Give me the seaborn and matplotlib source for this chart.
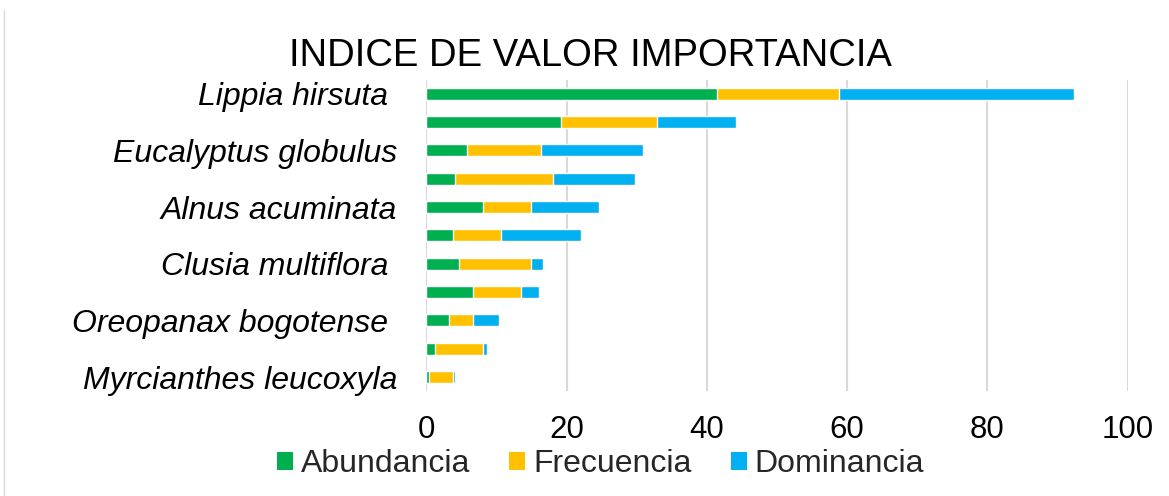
import matplotlib
matplotlib.use("Agg")
import matplotlib.pyplot as plt
import seaborn as sns
import pandas as pd
import numpy as np
from matplotlib.lines import Line2D
from matplotlib.patches import Patch

categories = ["sp01", "sp02", "sp03", "sp04", "sp05", "sp06", "sp07", "sp08", "sp09", "sp10", "sp11"]
tick_labels = ["Lippia hirsuta ", "", "Eucalyptus globulus", "", "Alnus acuminata", "",
               "Clusia multiflora ", "", "Oreopanax bogotense ", "", "Myrcianthes leucoxyla"]
abundancia = [41.5, 19.2, 5.8, 4.1, 8.1, 3.8, 4.6, 6.6, 3.2, 1.2, 0.4]
frecuencia = [17.4, 13.7, 10.6, 14.0, 6.8, 6.8, 10.3, 6.9, 3.4, 6.9, 3.4]
dominancia = [33.4, 11.2, 14.5, 11.7, 9.7, 11.5, 1.7, 2.6, 3.8, 0.5, 0.3]
series_names = ["Abundancia", "Frecuencia", "Dominancia"]
colors = ["#00B050", "#FFC000", "#00B0F0"]

df = pd.DataFrame({"cat": categories, "ab": abundancia, "fr": frecuencia, "do": dominancia})
df["c1"] = df["ab"]
df["c2"] = df["ab"] + df["fr"]
df["c3"] = df["c2"] + df["do"]

sns.set_theme(style="white")
plt.rcParams["font.family"] = ["Liberation Sans", "DejaVu Sans"]

fig = plt.figure(figsize=(11.69, 4.96), dpi=100)
ax = fig.add_axes([0.3648, 0.2113, 0.5997, 0.6284])

for col, c in zip(["c3", "c2", "c1"], colors[::-1]):
    sns.barplot(data=df, x=col, y="cat", orient="h", color=c, width=0.43,
                saturation=1, ax=ax, order=categories, zorder=3)

ax.set_xlim(0, 100)
ax.set_ylim(10.5, -0.5)
ax.set_xticks([0, 20, 40, 60, 80, 100])
ax.xaxis.grid(True, color="#D9D9D9", linewidth=1.5, zorder=0)
ax.set_axisbelow(True)
for s in ax.spines.values():
    s.set_visible(False)
ax.set_xlabel("")
ax.set_ylabel("")
ax.set_yticks(range(len(categories)))
ax.set_yticklabels(tick_labels, fontsize=23, fontstyle="italic", color="#000000")
ax.tick_params(axis="y", length=0, pad=21)
ax.tick_params(axis="x", length=0, pad=17, labelsize=22.5, labelcolor="#000000")

fig.text(0.505, 0.888, "INDICE DE VALOR IMPORTANCIA", ha="center", va="center",
         fontsize=27.5, color="#000000")

handles = [Patch(facecolor=c, edgecolor="none") for c in colors]
fig.legend(handles, series_names, loc="center", bbox_to_anchor=(0.5137, 0.064), ncol=3,
           frameon=False, fontsize=23, handlelength=0.5, handleheight=0.5,
           handletextpad=0.25, columnspacing=1.22, borderpad=0.1)

fig.add_artist(Line2D([0.003, 0.003], [0.0, 0.98], transform=fig.transFigure,
                      color="#D9D9D9", linewidth=1))

fig.savefig("out.png", dpi=100)
